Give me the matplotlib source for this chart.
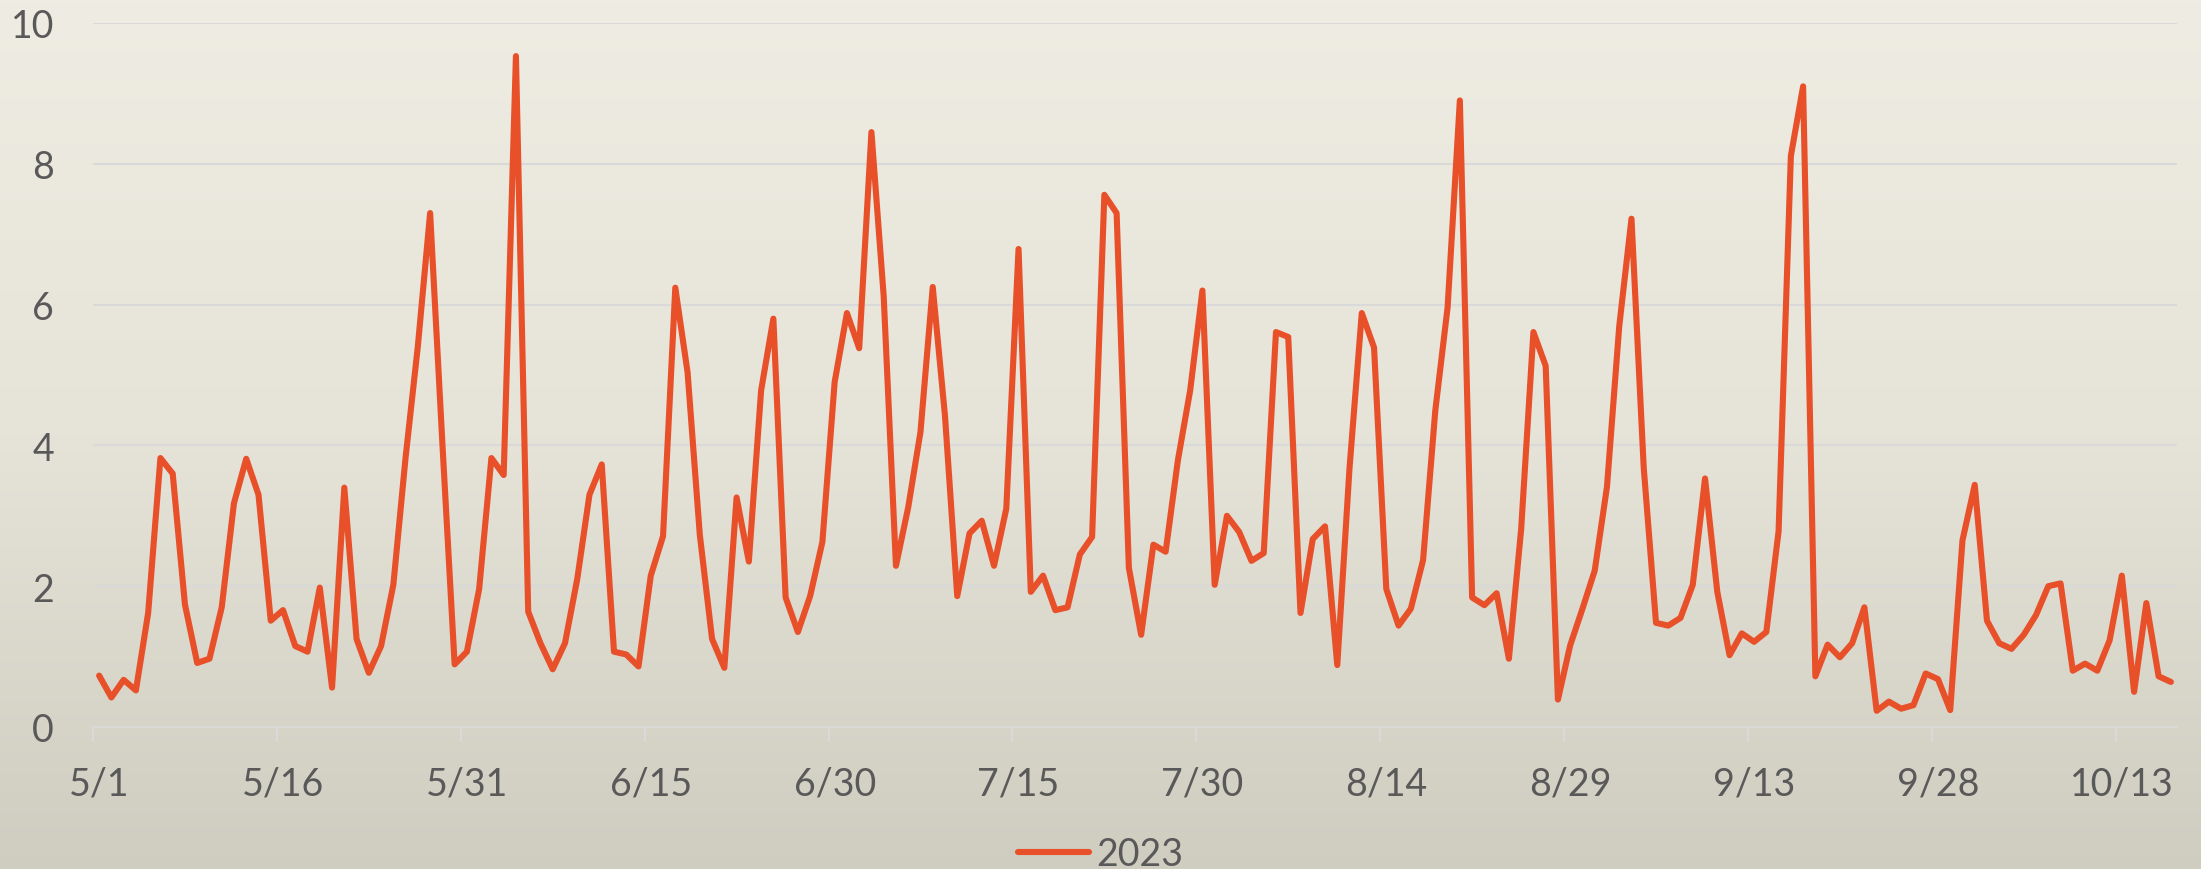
import numpy as np
import pandas as pd
import matplotlib.pyplot as plt
from matplotlib.colors import LinearSegmentedColormap

# daily values from 5/1 to 10/17
start_date = "2023-05-01"
series_name = "2023"
values = [
    0.73, 0.42, 0.67, 0.52, 1.62, 3.82, 3.60, 1.74, 0.91, 0.97,
    1.70, 3.18, 3.81, 3.30, 1.51, 1.66, 1.15, 1.07, 1.98, 0.56,
    3.40, 1.25, 0.77, 1.15, 2.02, 3.83, 5.41, 7.30, 4.03, 0.89,
    1.07, 1.96, 3.82, 3.58, 9.53, 1.64, 1.19, 0.82, 1.19, 2.10,
    3.30, 3.73, 1.07, 1.03, 0.86, 2.15, 2.71, 6.24, 5.04, 2.73,
    1.25, 0.84, 3.26, 2.35, 4.78, 5.80, 1.84, 1.35, 1.86, 2.63,
    4.90, 5.88, 5.38, 8.45, 6.12, 2.29, 3.12, 4.19, 6.25, 4.42,
    1.86, 2.75, 2.93, 2.29, 3.10, 6.79, 1.92, 2.15, 1.66, 1.70,
    2.45, 2.70, 7.56, 7.30, 2.26, 1.31, 2.59, 2.49, 3.79, 4.78,
    6.20, 2.02, 3.00, 2.77, 2.36, 2.47, 5.61, 5.54, 1.62, 2.67,
    2.85, 0.88, 3.68, 5.88, 5.39, 1.96, 1.44, 1.68, 2.37, 4.50,
    5.96, 8.90, 1.84, 1.73, 1.90, 0.97, 2.81, 5.61, 5.13, 0.39,
    1.16, 1.68, 2.22, 3.41, 5.69, 7.22, 3.68, 1.48, 1.44, 1.55,
    2.02, 3.53, 1.92, 1.02, 1.33, 1.21, 1.35, 2.78, 8.11, 9.10,
    0.72, 1.17, 0.99, 1.19, 1.70, 0.23, 0.36, 0.26, 0.31, 0.76,
    0.68, 0.24, 2.65, 3.44, 1.51, 1.19, 1.11, 1.31, 1.59, 2.00,
    2.04, 0.80, 0.90, 0.80, 1.23, 2.15, 0.50, 1.76, 0.72, 0.64,
]
y_ticks = [0, 2, 4, 6, 8, 10]
label_every = 15

dates = pd.date_range(start_date, periods=len(values), freq="D")
labels = [f"{d.month}/{d.day}" for d in dates]

plt.rcParams["font.family"] = ["Lato", "DejaVu Sans"]
text_color = "#595959"
grid_color = "#d9d9d9"
line_color = "#e8502a"
fs = 27

fig = plt.figure(figsize=(22.01, 8.70), dpi=100)

# vertical gradient background
bg = fig.add_axes([0, 0, 1, 1], zorder=-10)
cmap = LinearSegmentedColormap.from_list("bg", ["#efede3", "#e6e3d8", "#cfccc0"])
bg.imshow(np.linspace(0, 1, 256).reshape(-1, 1), aspect="auto", cmap=cmap,
          extent=[0, 1, 0, 1], origin="upper")
bg.axis("off")

ax = fig.add_axes([93 / 2201, 1 - 728 / 870, (2177 - 93) / 2201, (728 - 24) / 870])
ax.patch.set_alpha(0)

x = np.arange(len(values))
ax.plot(x, values, color=line_color, lw=4.4, solid_joinstyle="round",
        solid_capstyle="round", label=series_name, clip_on=False, zorder=3)

ax.set_xlim(-0.5, len(values) - 0.5)
ax.set_ylim(0, 10)
ax.set_yticks(y_ticks)
ax.set_yticklabels([str(t) for t in y_ticks])
ax.yaxis.grid(True, color=grid_color, lw=1.5)
ax.set_axisbelow(True)

major = x[::label_every]
ax.set_xticks(major)
ax.set_xticklabels([labels[i] for i in major])
ax.set_xticks(major - 0.5, minor=True)
ax.tick_params(axis="x", which="major", length=0, pad=28, labelsize=fs, labelcolor=text_color)
ax.tick_params(axis="x", which="minor", length=11, width=1.5, color=grid_color)
ax.tick_params(axis="y", length=0, pad=28, labelsize=fs, labelcolor=text_color)

for side in ["top", "right", "left"]:
    ax.spines[side].set_visible(False)
ax.spines["bottom"].set_color(grid_color)
ax.spines["bottom"].set_linewidth(1.5)

fig.legend(loc="lower center", bbox_to_anchor=(0.5, -0.042), frameon=False,
           fontsize=fs, labelcolor=text_color, handlelength=1.9, handletextpad=0.2)

fig.savefig("out.png", dpi=100)
